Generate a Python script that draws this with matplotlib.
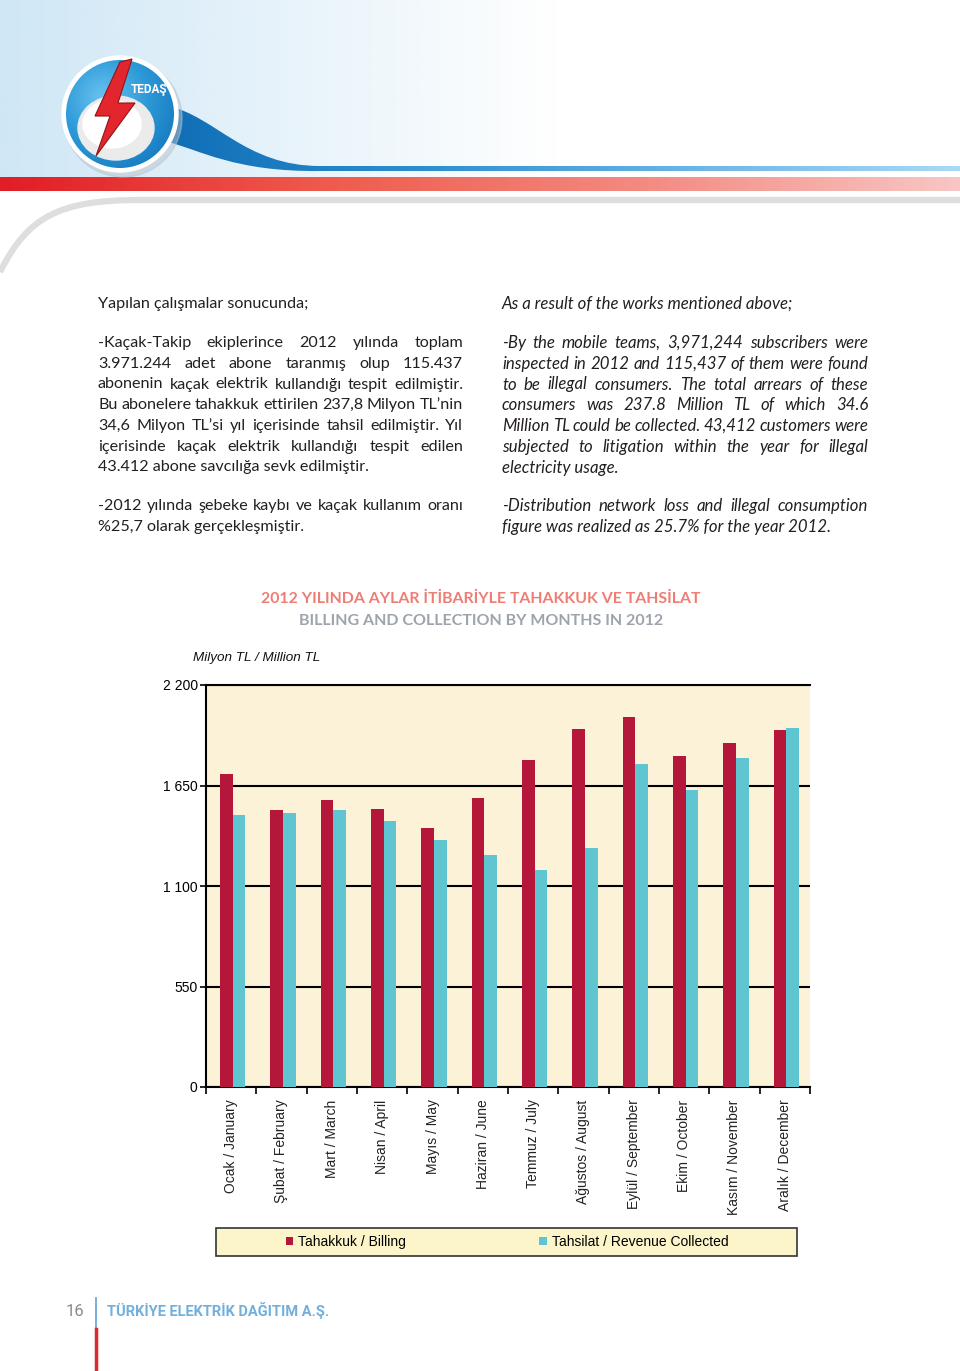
import numpy as np
import matplotlib
matplotlib.use("Agg")
import matplotlib.pyplot as plt
from matplotlib.patches import Rectangle, Circle, Ellipse, Polygon, PathPatch
from matplotlib.path import Path
from matplotlib.colors import LinearSegmentedColormap, to_rgb

# dados do grafico (milyon TL)
months = ["Ocak / January", "Şubat / February", "Mart / March", "Nisan / April",
          "Mayıs / May", "Haziran / June", "Temmuz / July", "Ağustos / August",
          "Eylül / September", "Ekim / October", "Kasım / November", "Aralık / December"]
billing = [1713, 1518, 1571, 1520, 1420, 1584, 1788, 1961, 2023, 1814, 1881, 1952]
collection = [1486, 1502, 1517, 1455, 1352, 1267, 1188, 1309, 1770, 1624, 1799, 1967]
yticks = [0, 550, 1100, 1650, 2200]
ytick_labels = ["0", "550", "1 100", "1 650", "2 200"]
series_labels = ["Tahakkuk / Billing", "Tahsilat / Revenue Collected"]

title_tr = "2012 YILINDA AYLAR İTİBARİYLE TAHAKKUK VE TAHSİLAT"
title_en = "BILLING AND COLLECTION BY MONTHS IN 2012"
unit_label = "Milyon TL / Million TL"

text_tr = [
    ["Yapılan çalışmalar sonucunda;"],
    ["-Kaçak-Takip ekiplerince 2012 yılında toplam",
     "3.971.244 adet abone taranmış olup 115.437",
     "abonenin kaçak elektrik kullandığı tespit edilmiştir.",
     "Bu abonelere tahakkuk ettirilen 237,8 Milyon TL’nin",
     "34,6 Milyon TL’si yıl içerisinde tahsil edilmiştir. Yıl",
     "içerisinde kaçak elektrik kullandığı tespit edilen",
     "43.412 abone savcılığa sevk edilmiştir."],
    ["-2012 yılında şebeke kaybı ve kaçak kullanım oranı",
     "%25,7 olarak gerçekleşmiştir."],
]
text_en = [
    ["As a result of the works mentioned above;"],
    ["-By the mobile teams, 3,971,244 subscribers were",
     "inspected in 2012 and 115,437 of them were found",
     "to be illegal consumers. The total arrears of these",
     "consumers was 237.8 Million TL of which 34.6",
     "Million TL could be collected. 43,412 customers were",
     "subjected to litigation within the year for illegal",
     "electricity usage."],
    ["-Distribution network loss and illegal consumption",
     "figure was realized as 25.7% for the year 2012."],
]

W, H = 960, 1371
fig = plt.figure(figsize=(W / 100, H / 100), dpi=100)
fig.patch.set_facecolor("white")

# eixo da pagina em pixels
page = fig.add_axes([0, 0, 1, 1])
page.set_xlim(0, W)
page.set_ylim(H, 0)
page.axis("off")
page.set_zorder(0)


def hgrad(colors, n=400):
    cm = LinearSegmentedColormap.from_list("g", colors)
    return cm(np.linspace(0, 1, n))[None, :, :]


# fundo azul do cabecalho
bg = np.ones((1, 400, 4))
bg[..., :3] = to_rgb("#cfe7f6")
bg[0, :, 3] = np.clip(1 - np.linspace(0, 960, 400) / 560, 0, 1)
page.imshow(bg, extent=[0, W, 177, 0], aspect="auto", zorder=1)

# faixa vermelha
page.imshow(hgrad(["#e11d25", "#ee5a4c", "#f38a80", "#f8c6c4"]),
            extent=[0, W, 191, 177], aspect="auto", zorder=2)

# curva cinza
gray = Path([(0, 272), (28, 216), (60, 200), (140, 200), (W, 200)],
            [Path.MOVETO, Path.CURVE4, Path.CURVE4, Path.CURVE4, Path.LINETO])
page.add_patch(PathPatch(gray, fill=False, edgecolor="#dedede", lw=4.5,
                         capstyle="butt", zorder=2))

# swoosh azul
sw = Path([(168, 106), (215, 116), (245, 166), (320, 166), (W, 166), (W, 171),
           (320, 171), (235, 172), (200, 150), (168, 142), (168, 106)],
          [Path.MOVETO, Path.CURVE4, Path.CURVE4, Path.CURVE4, Path.LINETO,
           Path.LINETO, Path.LINETO, Path.CURVE4, Path.CURVE4, Path.CURVE4,
           Path.CLOSEPOLY])
swp = PathPatch(sw, facecolor="none", edgecolor="none")
page.add_patch(swp)
im = page.imshow(hgrad(["#0f6db5", "#2d8fd0", "#6bb5e6", "#a9d9f6"]),
                 extent=[160, W, 180, 100], aspect="auto", zorder=3)
im.set_clip_path(swp)

# logo
cx, cy = 120, 114
page.add_patch(Circle((cx + 3, cy + 4), 59, color="#b9c3cc", alpha=0.5, zorder=4))
page.add_patch(Circle((cx, cy), 58, color="white", zorder=5))
disc = Circle((cx, cy), 54, facecolor="none", edgecolor="none")
page.add_patch(disc)
yy, xx = np.mgrid[-1:1:200j, -1:1:200j]
rr = np.sqrt((xx + 0.3) ** 2 + (yy + 0.3) ** 2)
cm_disc = LinearSegmentedColormap.from_list("d", ["#6cc4f0", "#2d9ad8", "#1476bd"])
dimg = page.imshow(cm_disc(np.clip(rr / 1.6, 0, 1)), extent=[cx - 54, cx + 54, cy + 54, cy - 54],
                   zorder=6)
dimg.set_clip_path(disc)
page.add_patch(Ellipse((116, 128), 76, 64, color="#ebebeb", zorder=7))
page.add_patch(Ellipse((112, 124), 58, 48, color="white", zorder=7))
bolt = [(120, 62), (132, 59), (118, 103), (135, 103), (96, 156), (110, 116), (95, 116)]
page.add_patch(Polygon(bolt, closed=True, facecolor="#e3262d", edgecolor="#8e1418",
                       lw=0.8, zorder=8))
page.text(149, 89, "TEDAŞ", color="white", fontsize=8.5, fontweight="bold",
          family="Roboto", ha="center", va="center", zorder=9)

# texto em duas colunas, justificado
renderer = fig.canvas.get_renderer()


def word_w(s, **kw):
    t = page.text(0, 0, s, **kw)
    w = t.get_window_extent(renderer).width
    t.remove()
    return w


def column(paras, x0, x1, style, size):
    kw = dict(family="Lato", fontsize=size, color="#231f20", style=style, va="center")
    starts = [304, 343, 506]
    for p, y0 in zip(paras, starts):
        for i, line in enumerate(p):
            y = y0 + i * 20.75
            if len(p) > 1 and i < len(p) - 1:
                words = line.split(" ")
                ws = [word_w(w, **kw) for w in words]
                gap = (x1 - x0 - sum(ws)) / (len(words) - 1)
                x = x0
                for w, wd in zip(words, ws):
                    page.text(x, y, w, ha="left", **kw)
                    x += wd + gap
            else:
                page.text(x0, y, line, ha="left", **kw)


column(text_tr, 98, 463, "normal", 11.6)
column(text_en, 502, 868, "italic", 12.1)

# titulos
page.text(481, 599, title_tr, family="Lato", fontweight="bold", fontsize=11.4,
          color="#ee7d74", ha="center", va="center")
page.text(481, 621, title_en, family="Lato", fontweight="bold", fontsize=11.5,
          color="#9ea4ac", ha="center", va="center")
page.text(193, 658, unit_label, family="Liberation Sans", style="italic",
          fontsize=9.7, color="#111", ha="left", va="center")

# rodape
page.text(84, 1311, "16", family="Roboto", fontsize=12, color="#8a8a8a",
          ha="right", va="center")
page.plot([96, 96], [1298, 1329], color="#6aaad8", lw=1.3)
page.plot([96, 96], [1329, H], color="#e3262d", lw=2.5)
page.text(107, 1311, "TÜRKİYE ELEKTRİK DAĞITIM A.Ş.", family="Roboto",
          fontweight="bold", fontsize=10.5, color="#72b0dc", ha="left", va="center")

# caixa da legenda
page.add_patch(Rectangle((216, 1228), 581, 28, facecolor="#fcf5c9",
                         edgecolor="#333333", lw=1.2, zorder=2))

# grafico
ax = fig.add_axes([206 / W, 1 - 1087 / H, 604 / W, 402 / H])
ax.set_zorder(5)
ax.set_facecolor("#fbf2d7")
x = np.arange(len(months))
b1 = ax.bar(x - 0.22, billing, 0.25, align="edge", color="#b5173a", zorder=3,
            label=series_labels[0])
b2 = ax.bar(x + 0.03, collection, 0.25, align="edge", color="#5fc5d1", zorder=3,
            label=series_labels[1])
ax.set_xlim(-0.5, len(months) - 0.5)
ax.set_ylim(0, 2200)
ax.set_yticks(yticks)
ax.set_yticklabels(ytick_labels, family="Liberation Sans", fontsize=10)
ax.set_xticks(x)
ax.set_xticklabels(months, rotation=90, family="Liberation Sans", fontsize=10,
                   color="#222")
ax.set_xticks(np.arange(len(months) + 1) - 0.5, minor=True)
ax.tick_params(axis="x", which="major", length=0, pad=9)
ax.tick_params(axis="x", which="minor", length=5, width=1.2, direction="out")
ax.tick_params(axis="y", length=4, width=1.2, pad=2, direction="out")
ax.grid(axis="y", color="black", lw=1.5, zorder=1)
for s in ["left", "bottom", "top"]:
    ax.spines[s].set_color("black")
    ax.spines[s].set_linewidth(1.5)
ax.spines["right"].set_visible(False)

ax.legend(handles=[b1, b2], loc="center", bbox_to_anchor=(507 / W, 1 - 1242 / H),
          bbox_transform=fig.transFigure, ncol=2, frameon=False,
          prop={"family": "Liberation Sans", "size": 10},
          handlelength=0.55, handleheight=0.55, handletextpad=0.35,
          columnspacing=9.6)

fig.savefig("out.png", dpi=100, facecolor="white")
